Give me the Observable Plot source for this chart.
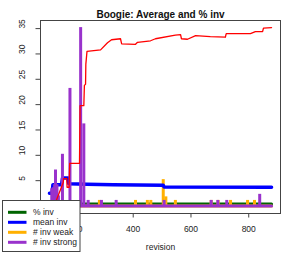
<!DOCTYPE html>
<html><head><meta charset="utf-8">
<script src="https://cdn.jsdelivr.net/npm/d3@7"></script>
<script src="https://cdn.jsdelivr.net/npm/@observablehq/plot@0.6"></script>
<style>body{margin:0;background:#fff}</style>
</head><body><div id="c"></div>
<script>
const title = "Boogie: Average and % inv";
const xLabel = "revision";
const xTicks = [200, 400, 600, 800];
const yTicks = [0, 5, 10, 15, 20, 25, 30, 35];

// red line (unlabelled series)
const redRev = [110, 133, 158, 159, 170, 171, 178, 180, 214, 216, 229, 231, 235, 236, 240, 287, 311, 325, 356, 360, 408, 415, 460, 477, 546, 564, 567, 588, 616, 667, 719, 722, 806, 823, 848, 851, 879];
const redVal = [0, 1.0, 4.7, 5.4, 5.4, 3.7, 3.7, 8.4, 8.4, 19.8, 19.8, 23.8, 24, 28, 30.5, 30.8, 32.2, 32.8, 33.0, 32.0, 31.9, 32.3, 32.6, 33.0, 33.7, 33.8, 33.0, 32.9, 33.6, 33.4, 33.3, 34.0, 34.0, 34.4, 34.4, 35.1, 35.2];

// % inv
const pctRev = [110, 879];
const pctVal = [0.4, 0.4];

// mean inv
const meanRev = [110, 119, 122, 152, 155, 174, 177, 240, 330, 504, 507, 879];
const meanVal = [2.5, 2.5, 4.2, 4.2, 5.5, 5.5, 4.4, 4.3, 4.2, 4.1, 3.75, 3.7];

// # inv weak (spikes above 0)
const weakRev = [283, 408, 449, 461, 504, 513, 546, 670, 694, 737, 796, 820];
const weakVal = [1.1, 1.1, 1.1, 1.1, 5.2, 1.8, 1.1, 1.1, 1.1, 1.1, 1.1, 1.1];

// # inv strong (spikes above 0)
const strongRev = [118, 123, 128, 131, 136, 141, 155, 181, 218, 229, 244, 290, 341, 507, 670, 693, 724, 838];
const strongVal = [3.4, 3.6, 4.2, 7.1, 4.2, 2.0, 10.2, 23.2, 35.2, 16.2, 1.1, 1.1, 1.1, 1.1, 1.1, 1.1, 1.1, 2.3];

const revRange = [110, 879];

const legendLabels = ["% inv", "mean inv", "# inv weak", "# inv strong"];
const legendColors = ["#006400", "#0000FF", "#FFB000", "#9932CC"];

const zip = (a, b) => a.map((x, i) => ({x, y: b[i]}));
const red = zip(redRev, redVal);
const pct = zip(pctRev, pctVal);
const mean = zip(meanRev, meanVal);
const weak = zip(weakRev, weakVal);
const strong = zip(strongRev, strongVal);
const base = revRange.map(x => ({x, y: 0}));

const font = "Liberation Sans, Arial, Helvetica, sans-serif";
const plot = Plot.plot({
  width: 294, height: 254,
  marginTop: 20, marginBottom: 41, marginLeft: 40, marginRight: 14,
  style: {fontFamily: font, fontSize: "8.5px", background: "#fff", color: "#222"},
  x: {domain: [79, 910]},
  y: {domain: [-1.48, 36.6]},
  marks: [
    Plot.line(pct, {x: "x", y: "y", stroke: legendColors[0], strokeWidth: 3}),
    Plot.line(base, {x: "x", y: "y", stroke: legendColors[2], strokeWidth: 3}),
    Plot.ruleX(weak, {x: "x", y1: 0, y2: "y", stroke: legendColors[2], strokeWidth: 3}),
    Plot.line(mean, {x: "x", y: "y", stroke: legendColors[1], strokeWidth: 3.5}),
    Plot.line(base, {x: "x", y: "y", stroke: legendColors[3], strokeWidth: 3}),
    Plot.ruleX(strong, {x: "x", y1: 0, y2: "y", stroke: legendColors[3], strokeWidth: 3}),
    Plot.line(red, {x: "x", y: "y", stroke: "#FF0000", strokeWidth: 1.3}),
    Plot.frame({stroke: "#444"}),
    Plot.axisX({ticks: xTicks, tickSize: 4.5, tickPadding: 8, label: null, stroke: "#444"}),
    Plot.axisY({ticks: yTicks, tickSize: 4.5, tickFormat: () => "", label: null, stroke: "#444"}),
    Plot.text(yTicks, {y: d => d, text: d => String(d), frameAnchor: "left", dx: -18.2, rotate: -90, fill: "#222"}),
    Plot.text([xLabel], {frameAnchor: "bottom", dy: 36.3, fill: "#222"}),
    Plot.text([title], {frameAnchor: "top", dy: -9.7, fontWeight: "bold", fontSize: 10, fill: "#111"})
  ]
});

const svg = d3.select(plot);
const g = svg.append("g").attr("text-anchor", "start");
g.append("rect").attr("x", 2.5).attr("y", 200.5).attr("width", 77.5).attr("height", 51)
  .attr("fill", "white").attr("stroke", "#444");
legendLabels.forEach((lab, i) => {
  const y = 212.3 + i * 10;
  g.append("line").attr("x1", 8).attr("x2", 26.5).attr("y1", y).attr("y2", y)
    .attr("stroke", legendColors[i]).attr("stroke-width", 3);
  g.append("text").attr("x", 33).attr("y", y + 3).attr("font-family", font)
    .attr("text-anchor", "start").attr("font-size", 8.5).attr("fill", "#222").text(lab);
});
document.getElementById("c").appendChild(plot);
</script>
</body></html>
